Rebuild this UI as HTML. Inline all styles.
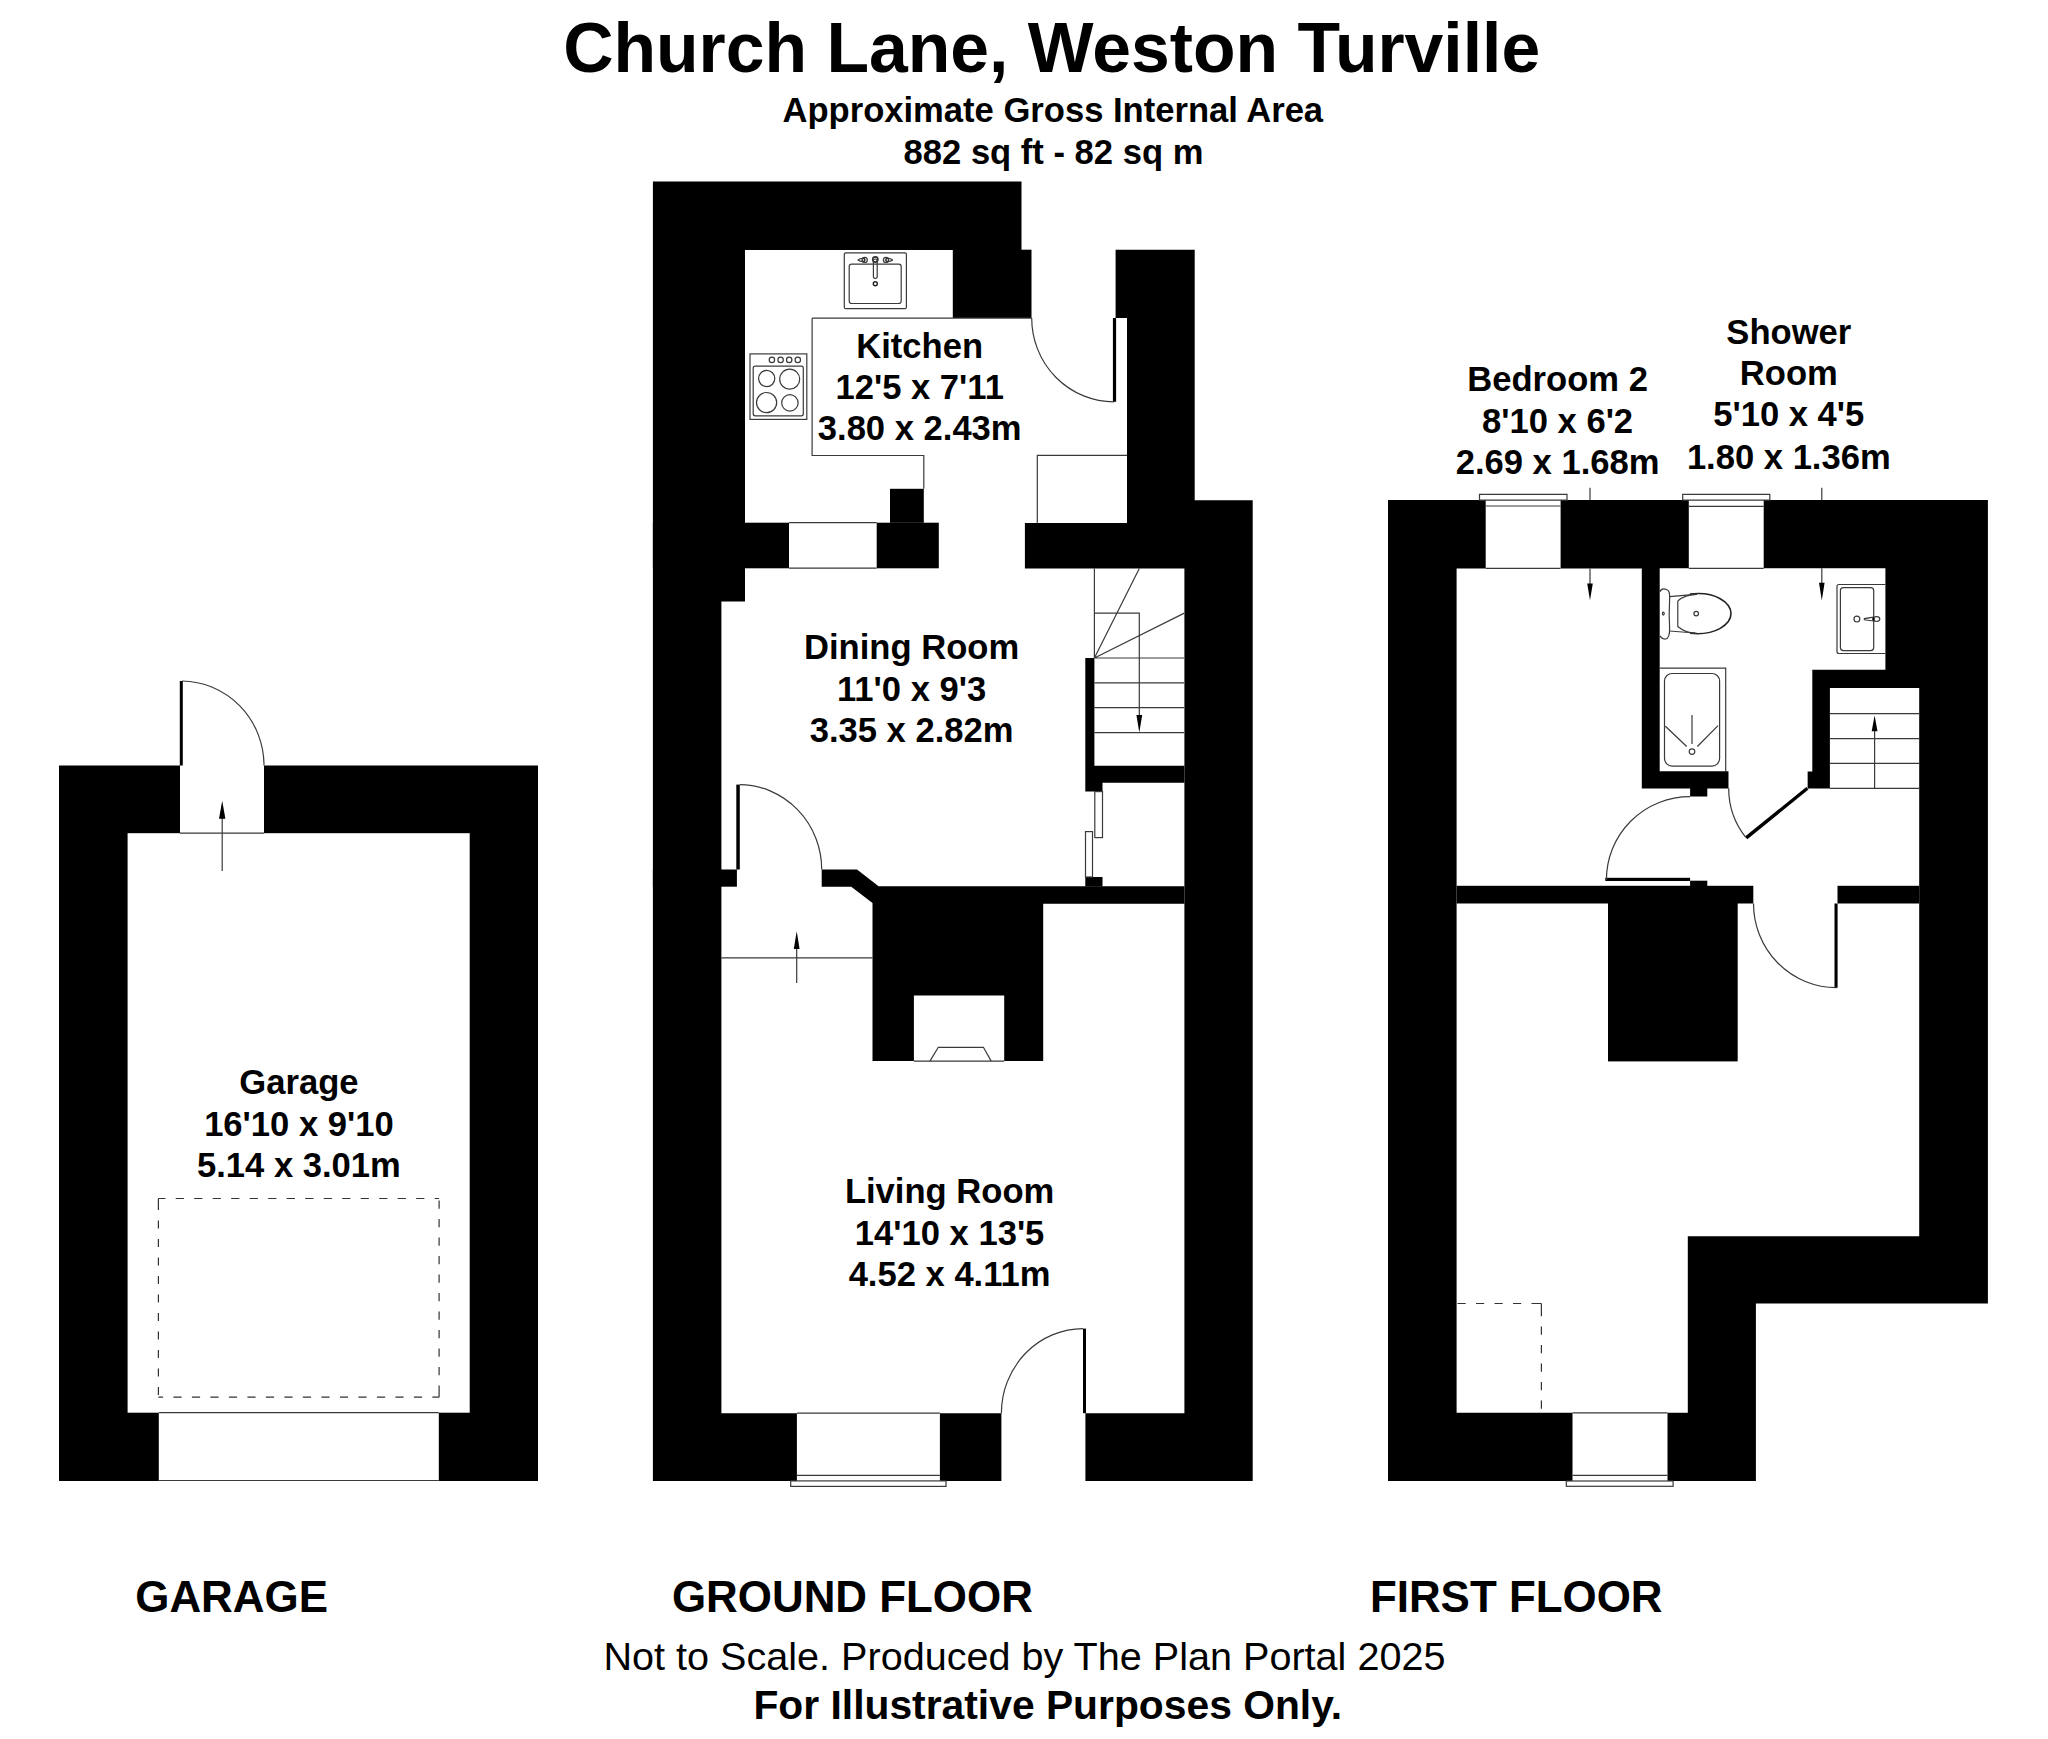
<!DOCTYPE html>
<html><head><meta charset="utf-8"><title>Church Lane, Weston Turville</title>
<style>
html,body{margin:0;padding:0;background:#fff;width:2048px;height:1739px;overflow:hidden}
svg{display:block;position:absolute;left:0;top:0}
text{font-family:"Liberation Sans",sans-serif;font-weight:bold;fill:#000}
.ln{fill:none;stroke:#3a3a3a;stroke-width:1.2}
.dl2{fill:none;stroke:#333;stroke-width:1.2}
.w{fill:#000}
.h{fill:#fff}
</style></head>
<body>
<svg width="2048" height="1739" viewBox="0 0 2048 1739">
<rect x="0" y="0" width="2048" height="1739" fill="#fff"/>

<!-- ============ TITLES ============ -->
<text x="1051.7" y="72" font-size="69.7" text-anchor="middle">Church Lane, Weston Turville</text>
<text x="1052.8" y="121.5" font-size="34.6" text-anchor="middle">Approximate Gross Internal Area</text>
<text x="1053.5" y="163.8" font-size="34.6" text-anchor="middle">882 sq ft - 82 sq m</text>

<!-- ============ GARAGE ============ -->
<g id="garage">
<rect class="w" x="59" y="765.5" width="479" height="715.5"/>
<rect class="h" x="127.6" y="833.2" width="342.1" height="579.5"/>
<rect class="h" x="180" y="765" width="84" height="69"/>
<rect class="h" x="158.8" y="1412" width="280" height="70"/>
<path class="ln" d="M180 833.2H264M158.8 1412.7H438.8M158.8 1480.5H438.8"/>
<rect class="w" x="179.8" y="681" width="3" height="84.5"/>
<path class="ln" d="M182 681A83 84.5 0 0 1 264 765.5"/>
<path class="ln" d="M222.2 871V816"/>
<path class="w" d="M222.2 800.8L219 818.7H225.4Z"/>
<path class="dl2" d="M158.4 1198.5L165.4 1198.5M175.7 1198.5L183.9 1198.5M194.2 1198.5L202.4 1198.5M212.7 1198.5L220.9 1198.5M231.2 1198.5L239.4 1198.5M249.7 1198.5L257.9 1198.5M268.2 1198.5L276.4 1198.5M286.7 1198.5L294.9 1198.5M305.2 1198.5L313.4 1198.5M323.7 1198.5L331.9 1198.5M342.2 1198.5L350.4 1198.5M360.7 1198.5L368.9 1198.5M379.2 1198.5L387.4 1198.5M397.7 1198.5L405.9 1198.5M416.2 1198.5L424.4 1198.5M434.7 1198.5L439.1 1198.5M158.4 1198.5L158.4 1210.1M158.4 1220.4L158.4 1228.6M158.4 1238.9L158.4 1247.1M158.4 1257.4L158.4 1265.6M158.4 1275.9L158.4 1284.1M158.4 1294.4L158.4 1302.6M158.4 1312.9L158.4 1321.1M158.4 1331.4L158.4 1339.6M158.4 1349.9L158.4 1358.1M158.4 1368.4L158.4 1376.6M158.4 1386.9L158.4 1395.1M439.1 1397.2L432.4 1397.2M422.1 1397.2L413.9 1397.2M403.6 1397.2L395.4 1397.2M385.1 1397.2L376.9 1397.2M366.6 1397.2L358.4 1397.2M348.1 1397.2L339.9 1397.2M329.6 1397.2L321.4 1397.2M311.1 1397.2L302.9 1397.2M292.6 1397.2L284.4 1397.2M274.1 1397.2L265.9 1397.2M255.6 1397.2L247.4 1397.2M237.1 1397.2L228.9 1397.2M218.6 1397.2L210.4 1397.2M200.1 1397.2L191.9 1397.2M181.6 1397.2L173.4 1397.2M163.1 1397.2L158.4 1397.2M439.1 1397.2L439.1 1385.6M439.1 1375.3L439.1 1367.1M439.1 1356.8L439.1 1348.6M439.1 1338.3L439.1 1330.1M439.1 1319.8L439.1 1311.6M439.1 1301.3L439.1 1293.1M439.1 1282.8L439.1 1274.6M439.1 1264.3L439.1 1256.1M439.1 1245.8L439.1 1237.6M439.1 1227.3L439.1 1219.1M439.1 1208.8L439.1 1200.6"/>
</g>

<!-- ============ ROOM LABELS ============ -->
<g font-size="34.6" text-anchor="middle">
<text x="298.9" y="1094"><tspan x="298.9">Garage</tspan><tspan x="298.9" y="1135.5">16'10 x 9'10</tspan><tspan x="298.9" y="1176.8">5.14 x 3.01m</tspan></text>
<text x="919.7" y="357.6"><tspan x="919.7">Kitchen</tspan><tspan x="919.7" y="399">12'5 x 7'11</tspan><tspan x="919.7" y="440.3">3.80 x 2.43m</tspan></text>
<text x="911.6" y="659"><tspan x="911.6">Dining Room</tspan><tspan x="911.6" y="700.6">11'0 x 9'3</tspan><tspan x="911.6" y="741.9">3.35 x 2.82m</tspan></text>
<text x="949.6" y="1203.1"><tspan x="949.6">Living Room</tspan><tspan x="949.6" y="1244.6">14'10 x 13'5</tspan><tspan x="949.6" y="1286.3">4.52 x 4.11m</tspan></text>
<text x="1557.6" y="391.3"><tspan x="1557.6">Bedroom 2</tspan><tspan x="1557.6" y="432.8">8'10 x 6'2</tspan><tspan x="1557.6" y="474.3">2.69 x 1.68m</tspan></text>
<text x="1788.8" y="343.6"><tspan x="1788.8">Shower</tspan><tspan x="1788.8" y="384.9">Room</tspan><tspan x="1788.8" y="426.2">5'10 x 4'5</tspan><tspan x="1788.8" y="468.7">1.80 x 1.36m</tspan></text>
<text x="1688" y="1114.3"><tspan x="1688">Bedroom</tspan><tspan x="1688" y="1155.5">13'6 x 11'8</tspan><tspan x="1688" y="1196.8">4.13 x 3.57m</tspan></text>
</g>

<!-- ============ FLOOR LABELS / FOOTER ============ -->
<g font-size="43.9" text-anchor="middle">
<text x="231.6" y="1612.4">GARAGE</text>
<text x="852.4" y="1612.4">GROUND FLOOR</text>
<text x="1516.2" y="1612.4">FIRST FLOOR</text>
</g>
<text x="1024.5" y="1670.4" font-size="39.6" text-anchor="middle" style="font-weight:normal">Not to Scale. Produced by The Plan Portal 2025</text>
<text x="1047.8" y="1719.2" font-size="40.8" text-anchor="middle">For Illustrative Purposes Only.</text>

<!-- ============ GROUND FLOOR ============ -->
<g id="ground">
<!-- outer walls -->
<path class="w" d="M652.9 181.6H1021.5V250H745V601.5H721.4V1413.2H796.9V1481H652.9Z"/>
<path class="w" d="M939.9 1413.2H1001.4V1481H939.9Z"/>
<path class="w" d="M1085.4 1413.2H1184.4V568.5H1024.9V523H1127V318H1115.6V249.7H1194.7V500.2H1252.7V1481H1085.4Z"/>
<rect class="w" x="952.8" y="249.7" width="78.7" height="68.3"/>
<rect class="w" x="1112.9" y="318" width="3.2" height="83.8"/>
<!-- kitchen / dining wall -->
<rect class="w" x="652.9" y="522.7" width="136.1" height="45.6"/>
<rect class="w" x="876.7" y="522.7" width="62.1" height="45.6"/>
<rect class="w" x="890" y="488.8" width="33.8" height="34"/>
<!-- stair walls -->
<path class="w" d="M1085.3 658H1094.4V765.7H1184.4V782.7H1102.5V791.6H1085.3Z"/>
<rect class="w" x="1085.3" y="877" width="17.2" height="9.5"/>
<!-- dining / living wall + chimney -->
<rect class="w" x="652.9" y="869.5" width="84" height="17.2"/>
<path class="w" fill-rule="evenodd" d="M821.7 869.5H857L878.6 886.2H1184.4V903.7H1043.2V1061.1H872.5V903L851.3 886.7H821.7Z M913.9 995.4V1061.1H1004.2V995.4Z"/>
<rect class="w" x="736.3" y="784.6" width="3.5" height="84.9"/>
<rect class="w" x="1083" y="1328.6" width="3" height="84.6"/>

<!-- thin lines -->
<path class="ln" d="M812.1 318.2H1031.5M812.1 318.2V455.5H923.8V488.8"/>
<path class="ln" d="M1031.7 318A82.3 83.8 0 0 0 1114 401.8"/>
<path class="ln" d="M789 522.7H876.7M789 568.1H876.7"/>
<path class="ln" d="M1037.3 523V455.3H1127"/>
<!-- stairs -->
<path class="ln" d="M1094.4 568.5V658M1094.4 658H1184.3M1094.4 682.9H1184.3M1094.4 707.7H1184.3M1094.4 732.6H1184.3M1094.4 658L1139.3 568.5M1094.4 658L1184.3 613.1M1094.4 613.1H1139.3V716"/>
<path class="w" d="M1139.3 732.6L1136.4 715H1142.2Z"/>
<rect class="ln" x="1094.8" y="791.6" width="7.7" height="46"/>
<rect class="ln" x="1085.5" y="831.6" width="7" height="45.4"/>
<!-- dining door arc -->
<path class="ln" d="M739.8 784.6A83 84.9 0 0 1 821.7 869.5"/>
<!-- living top line + arrow -->
<path class="ln" d="M721.4 957.9H872.5M796.7 983V946"/>
<path class="w" d="M796.7 931.3L793.8 949H799.6Z"/>
<!-- fireplace hearth -->
<path class="ln" d="M913.9 1061.1H1004.2M929.9 1061.1L938.3 1047.3H983.4L991.2 1061.1"/>
<!-- bottom window -->
<path class="ln" d="M796.9 1413.2H939.9M796.9 1475.3H939.9"/>
<rect class="ln" x="790.7" y="1480.9" width="155.3" height="5.5"/>
<path class="ln" d="M1083 1328.6A82 84.6 0 0 0 1001.4 1413.2"/>
<!-- sink -->
<rect class="ln" x="844.3" y="252.8" width="62.1" height="55.9" rx="1.5"/>
<rect class="ln" x="849.2" y="264.1" width="52" height="39.4" rx="2.5"/>
<circle style="fill:none;stroke:#333;stroke-width:1.6" cx="875.3" cy="259.5" r="2.6"/>
<rect class="ln" x="873.4" y="259" width="3.8" height="19.5" rx="1.9"/>
<circle style="fill:none;stroke:#222;stroke-width:1.4" cx="875.3" cy="283.8" r="2"/>
<path class="ln" d="M857.8 259.9C860 258.3 863 258.2 865 258.6M857.8 259.9C860 261.5 863 261.6 865 261.2"/>
<path class="ln" d="M892.8 259.9C890.6 258.3 887.6 258.2 885.6 258.6M892.8 259.9C890.6 261.5 887.6 261.6 885.6 261.2"/>
<circle class="ln" cx="864.7" cy="259.9" r="2.6"/>
<circle class="ln" cx="886" cy="259.9" r="2.6"/>
<circle fill="#222" cx="864.7" cy="259.9" r="1"/>
<circle fill="#222" cx="886" cy="259.9" r="1"/>
<!-- hob -->
<rect class="ln" x="750" y="353.9" width="56.8" height="65.5"/>
<rect class="ln" x="753.2" y="366.1" width="50.1" height="49.7" rx="2"/>
<circle class="ln" cx="771.9" cy="359.9" r="2.7"/>
<circle class="ln" cx="780.6" cy="359.9" r="2.7"/>
<circle class="ln" cx="789.2" cy="359.9" r="2.7"/>
<circle class="ln" cx="797.8" cy="359.9" r="2.7"/>
<circle class="ln" cx="766.7" cy="378.5" r="8.1"/>
<circle class="ln" cx="789.7" cy="379.2" r="10"/>
<circle class="ln" cx="766.6" cy="402.6" r="10.1"/>
<circle class="ln" cx="789.9" cy="402.9" r="8.2"/>
</g>
<!-- ============ FIRST FLOOR ============ -->
<g id="first">
<path class="w" d="M1388 500.1H1987.9V1303.4H1755.9V1481H1388Z"/>
<!-- white interior -->
<path class="h" d="M1456.6 568.4H1641.8V788.4H1728.7V771.3H1659.7V568.3H1885.4V669.8H1812.3V771.5H1807.4V788.4H1829.9V688H1919.2V1236.3H1687.8V1412.8H1456.6Z"/>
<rect class="h" x="1485.7" y="499.5" width="74.9" height="69.5"/>
<rect class="h" x="1688.8" y="499.5" width="74.9" height="69.5"/>
<rect class="h" x="1572.5" y="1412" width="95" height="69.5"/>
<rect class="h" x="1728.7" y="771" width="78.7" height="18"/>
<!-- internal black -->
<rect class="w" x="1690.1" y="788" width="17.2" height="8.5"/>
<rect class="w" x="1690.1" y="880.7" width="17.2" height="5.5"/>
<rect class="w" x="1456.6" y="885.8" width="296.7" height="17.7"/>
<rect class="w" x="1837.5" y="885.8" width="81.7" height="17.7"/>
<rect class="w" x="1608" y="903" width="129.7" height="158.4"/>
<rect class="w" x="1605.3" y="877.8" width="84.8" height="3.2"/>
<rect class="w" x="1834.5" y="903.5" width="3.1" height="84.3"/>
<path class="w" d="M1806.3 787L1808.5 789.6L1747.3 839.2L1745 836.6Z"/>

<!-- thin lines -->
<!-- windows -->
<path class="ln" d="M1485.7 506H1560.6M1485.7 568.4H1560.6M1688.8 506.3H1763.7M1688.8 568.3H1763.7M1572.5 1412.8H1667.5M1572.5 1475.3H1667.5"/>
<path class="ln" d="M1479.5 500.1V494.3H1567V500.1ZM1682.7 500.2V494.4H1769.8V500.2Z"/>
<rect class="ln" x="1566.3" y="1481" width="106.8" height="5.3"/>
<!-- arrows -->
<path class="ln" d="M1590 487.8V500.1M1590 568.4V586M1821.8 487.7V500.2M1821.8 568.3V586M1874.6 788.3V730"/>
<path class="w" d="M1590 600.3L1587.2 583.6H1592.8Z M1821.8 600.4L1819 582.7H1824.6Z M1874.6 715.5L1871.7 731.3H1877.5Z"/>
<!-- stairs -->
<path class="ln" d="M1829.9 713.6H1919.2M1829.9 738.6H1919.2M1829.9 763.4H1919.2M1829.9 788.3H1919.2"/>
<!-- door arcs -->
<path class="ln" d="M1690 796.6A83.6 83.4 0 0 0 1606.4 880"/>
<path class="ln" d="M1753.5 903.5A83 84.2 0 0 0 1836.5 987.7"/>
<path class="ln" d="M1728.7 788.3A78.7 78.7 0 0 0 1745.7 837.3"/>
<!-- dashed cupboard -->
<path class="dl2" d="M1541.4 1303.5L1531.5 1303.5M1521.2 1303.5L1513.0 1303.5M1502.7 1303.5L1494.5 1303.5M1484.2 1303.5L1476.0 1303.5M1465.7 1303.5L1457.5 1303.5M1541.4 1303.5L1541.4 1316.2M1541.4 1326.5L1541.4 1334.7M1541.4 1345.0L1541.4 1353.2M1541.4 1363.5L1541.4 1371.7M1541.4 1382.0L1541.4 1390.2M1541.4 1400.5L1541.4 1408.7"/>
<!-- toilet -->
<path class="ln" d="M1659.7 592C1661 589 1664 588.5 1666.5 589.5C1669.5 590.5 1669.8 593 1669.6 600C1669 610 1669 617 1669.6 628C1669.8 635 1669 638.5 1665.5 639C1663 639.3 1661 637.5 1659.7 636"/>
<ellipse class="ln" cx="1663.3" cy="613.6" rx="0.9" ry="1.5"/>
<path class="ln" d="M1669.6 596.6L1695 594.3M1669.6 631L1695 633"/>
<path style="fill:none;stroke:#222;stroke-width:1.6" d="M1690 594.1C1716 591 1731 603 1731 613.6C1731 624 1716 636 1690 633.3"/>
<path class="ln" d="M1677.8 601C1683 596 1690 594.3 1697 594.3M1677.8 601V626.5C1683 631 1690 633.3 1697 633.3"/>
<circle class="ln" cx="1696.2" cy="613.6" r="2.3"/>
<!-- shower room sink -->
<path class="ln" d="M1885.4 584.5H1839C1837.8 584.5 1837 585.3 1837 586.5V651.5C1837 652.7 1837.8 653.5 1839 653.5H1885.4"/>
<rect class="ln" x="1840.4" y="587.7" width="33.3" height="62.9" rx="3"/>
<circle class="ln" cx="1856.9" cy="619.1" r="2.9"/>
<ellipse class="ln" cx="1876.5" cy="619.1" rx="3.3" ry="2.4"/>
<path class="ln" d="M1873.5 617.2L1864.4 618.6V619.8L1873.5 621"/>
<rect class="w" x="1872.4" y="617.8" width="2.2" height="2.6"/>
<!-- shower tray -->
<path class="ln" d="M1659.7 668.1H1725.7V771.3"/>
<rect class="ln" x="1664.5" y="673.5" width="55.1" height="92.6" rx="7.6"/>
<circle class="ln" cx="1692" cy="751.6" r="2.8"/>
<path class="ln" d="M1692 714.9V744M1665.4 726.2L1686.7 746.5M1718 725.6L1697.4 746.5"/>
</g>
</svg>
</body></html>
